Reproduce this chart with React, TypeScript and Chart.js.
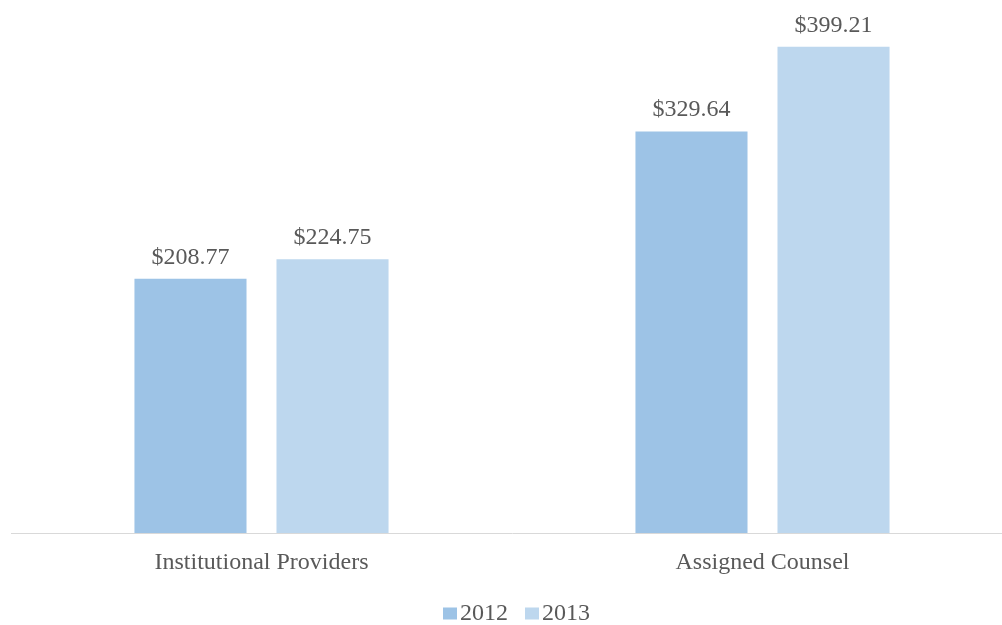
import React, { useEffect, useRef } from "react";
import { Chart, registerables } from "chart.js";

Chart.register(...registerables);

const categories = ["Institutional Providers", "Assigned Counsel"];
const seriesNames = ["2012", "2013"];
const values2012 = [208.77, 329.64];
const values2013 = [224.75, 399.21];
const colors = ["#9DC3E6", "#BDD7EE"];

const FONT = "'Times New Roman', 'Liberation Serif', serif";
const TEXT = "#595959";

const labelPlugin = {
  id: "valueLabels",
  afterDatasetsDraw(chart: any) {
    const ctx = chart.ctx;
    ctx.save();
    ctx.font = `24px ${FONT}`;
    ctx.fillStyle = TEXT;
    ctx.textAlign = "center";
    ctx.textBaseline = "alphabetic";
    chart.data.datasets.forEach((ds: any, i: number) => {
      const meta = chart.getDatasetMeta(i);
      meta.data.forEach((bar: any, j: number) => {
        const v = ds.data[j] as number;
        ctx.fillText("$" + v.toFixed(2), bar.x, bar.y - 15);
      });
    });
    ctx.restore();
  },
};

const legendPlugin = {
  id: "customLegend",
  afterDraw(chart: any) {
    const ctx = chart.ctx;
    ctx.save();
    ctx.font = `24px ${FONT}`;
    ctx.textBaseline = "alphabetic";
    ctx.textAlign = "left";
    const box = 14;
    const gap = 3;
    const itemGap = 17;
    const items = chart.data.datasets.map((ds: any) => ({
      label: ds.label,
      color: ds.backgroundColor,
      w: box + gap + ctx.measureText(ds.label).width,
    }));
    const total = items.reduce((s: number, it: any) => s + it.w, 0) + itemGap * (items.length - 1);
    let x = chart.width / 2 - total / 2;
    const baseY = 620;
    items.forEach((it: any) => {
      ctx.fillStyle = it.color;
      ctx.fillRect(x, 607.5, box, 12);
      ctx.fillStyle = TEXT;
      ctx.fillText(it.label, x + box + gap, baseY);
      x += it.w + itemGap;
    });
    ctx.restore();
  },
};

export default function App() {
  const ref = useRef<HTMLCanvasElement>(null);
  useEffect(() => {
    if (!ref.current) return;
    const chart = new Chart(ref.current, {
      type: "bar",
      data: {
        labels: categories,
        datasets: [
          { label: seriesNames[0], data: values2012, backgroundColor: colors[0] },
          { label: seriesNames[1], data: values2013, backgroundColor: colors[1] },
        ],
      },
      options: {
        responsive: false,
        animation: false,
        layout: { padding: { left: 11, right: 20, top: 0, bottom: 0 } },
        datasets: {
          bar: { categoryPercentage: 0.567, barPercentage: 0.789 },
        },
        plugins: {
          legend: { display: false },
          tooltip: { enabled: false },
        },
        scales: {
          x: {
            grid: { display: false, drawTicks: false },
            border: { display: true, color: "#D9D9D9", width: 1 },
            ticks: {
              padding: 15,
              color: TEXT,
              font: { family: FONT, size: 24 },
              maxRotation: 0,
            },
            afterFit(scale: any) {
              scale.height = 92;
            },
          },
          y: {
            display: false,
            min: 0,
            max: 437.5,
          },
        },
      },
      plugins: [labelPlugin, legendPlugin],
    });
    return () => chart.destroy();
  }, []);
  return (
    <div
      style={{
        position: "fixed",
        left: 0,
        top: 0,
        width: 1002,
        height: 625,
        overflow: "hidden",
        background: "#fff",
      }}
    >
      <canvas ref={ref} width={1033} height={625} style={{ display: "block" }} />
    </div>
  );
}
